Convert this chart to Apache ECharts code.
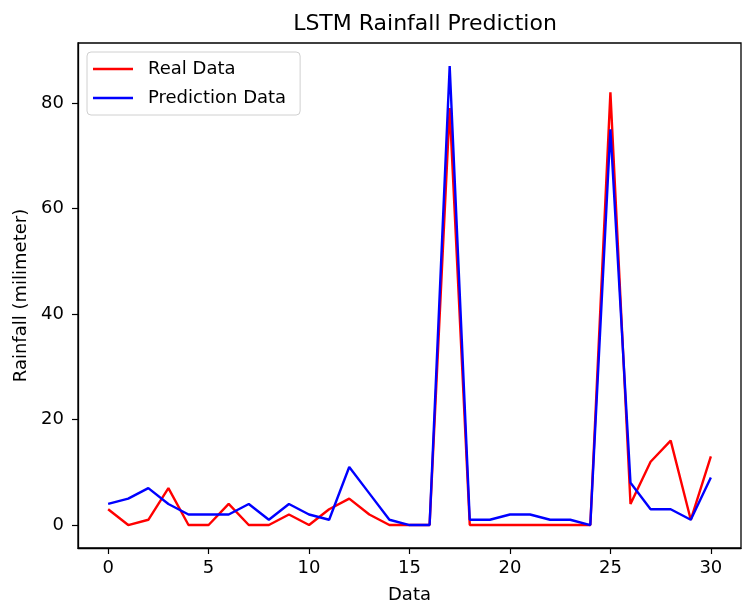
<!DOCTYPE html>
<html>
<head>
<meta charset="utf-8">
<script src="https://cdn.jsdelivr.net/npm/echarts@6/dist/echarts.min.js"></script>
<style>html,body{margin:0;padding:0;background:#fff;}#chart{width:744px;height:605px;}</style>
</head>
<body>
<div id="chart"></div>
<script>
const xIndex = [0,1,2,3,4,5,6,7,8,9,10,11,12,13,14,15,16,17,18,19,20,21,22,23,24,25,26,27,28,29,30];
const realData = [3,0,1,7,0,0,4,0,0,2,0,3,5,2,0,0,0,79,0,0,0,0,0,0,0,82,4,12,16,1,13];
const predData = [4,5,7,4,2,2,2,4,1,4,2,1,11,6,1,0,0,87,1,1,2,2,1,1,0,75,8,3,3,1,9];
const xTicks = [0,5,10,15,20,25,30];
const yTicks = [0,20,40,60,80];

const font = 'DejaVu Sans';
const chart = echarts.init(document.getElementById('chart'));
chart.setOption({
  animation: false,
  backgroundColor: '#fff',
  title: {
    text: 'LSTM Rainfall Prediction',
    left: 420, top: 8, textAlign: 'center',
    textStyle: {fontFamily: font, fontSize: 22, fontWeight: 'normal', color: '#000'}
  },
  legend: {
    orient: 'vertical', left: 87, top: 52,
    padding: [8, 14, 8, 6],
    itemGap: 11,
    itemWidth: 40, itemHeight: 2.5,
    backgroundColor: '#fff', borderColor: '#d0d0d0', borderWidth: 1, borderRadius: 4,
    textStyle: {fontFamily: font, fontSize: 18, color: '#000', padding: [0,0,0,10]},
    data: [{name: 'Real Data', icon: 'rect'}, {name: 'Prediction Data', icon: 'rect'}]
  },
  grid: {left: 78, right: 3, top: 43, bottom: 57, outerBoundsMode: 'none', containLabel: false,
         show: true, borderColor: '#000', borderWidth: 1.3, backgroundColor: 'transparent'},
  xAxis: {
    type: 'value', min: -1.5, max: 31.5,
    name: 'Data', nameLocation: 'middle', nameGap: 38,
    nameTextStyle: {fontFamily: font, fontSize: 18, color: '#000'},
    axisLine: {show: true, onZero: false, lineStyle: {color: '#000', width: 1.3}},
    axisTick: {show: true, inside: false, length: 6, lineStyle: {color: '#000', width: 1.2}, customValues: xTicks},
    axisLabel: {fontFamily: font, fontSize: 18, color: '#000', margin: 11, customValues: xTicks},
    splitLine: {show: false}
  },
  yAxis: {
    type: 'value', min: -4.35, max: 91.35,
    name: 'Rainfall (milimeter)', nameLocation: 'middle', nameGap: 44,
    nameTextStyle: {fontFamily: font, fontSize: 18, color: '#000'},
    axisLine: {show: true, onZero: false, lineStyle: {color: '#000', width: 1.3}},
    axisTick: {show: true, inside: false, length: 6, lineStyle: {color: '#000', width: 1.2}, customValues: yTicks},
    axisLabel: {fontFamily: font, fontSize: 18, color: '#000', margin: 14, customValues: yTicks},
    splitLine: {show: false}
  },
  series: [
    {name: 'Real Data', type: 'line', showSymbol: false, symbol: 'none',
     data: xIndex.map((x, i) => [x, realData[i]]),
     lineStyle: {color: '#ff0000', width: 2.4}, itemStyle: {color: '#ff0000'}},
    {name: 'Prediction Data', type: 'line', showSymbol: false, symbol: 'none',
     data: xIndex.map((x, i) => [x, predData[i]]),
     lineStyle: {color: '#0000ff', width: 2.4}, itemStyle: {color: '#0000ff'}}
  ]
});
</script>
</body>
</html>
